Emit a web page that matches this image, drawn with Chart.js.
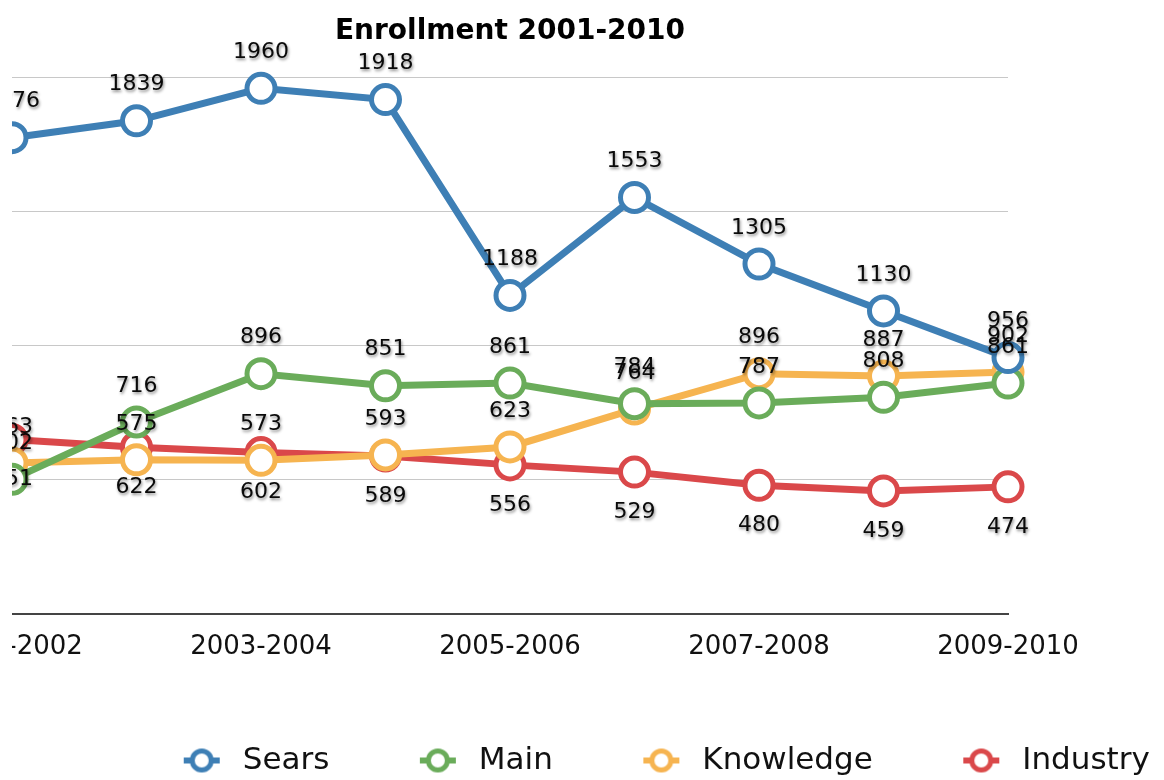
<!DOCTYPE html>
<html>
<head>
<meta charset="utf-8">
<script src="https://cdn.jsdelivr.net/npm/chart.js@4.4.0/dist/chart.umd.min.js"></script>
<style>
  html, body { margin:0; padding:0; overflow:hidden; background:#fff; width:1164px; height:780px; }
  #clip { position:absolute; left:12px; top:0; width:1152px; height:780px; overflow:hidden; }
  #wrap { position:absolute; left:-112px; top:0; }
</style>
</head>
<body>
<div id="clip"><div id="wrap"><canvas id="myChart" width="1414" height="780"></canvas></div></div>
<script>
const years = ['2001-2002','2002-2003','2003-2004','2004-2005','2005-2006','2006-2007','2007-2008','2008-2009','2009-2010'];
const sears = [1776, 1839, 1960, 1918, 1188, 1553, 1305, 1130, 956];
const main = [502, 716, 896, 851, 861, 784, 787, 808, 861];
const knowledge = [563, 575, 573, 593, 623, 764, 896, 887, 902];
const industry = [651, 622, 602, 589, 556, 529, 480, 459, 474];
const yMin = 0, yMax = 2000, yStep = 500;

const colors = {
  Sears: 'rgb(62,127,181)',
  Main: 'rgb(106,172,90)',
  Knowledge: 'rgb(246,180,80)',
  Industry: 'rgb(218,72,74)'
};

Chart.defaults.font.family = '"DejaVu Sans", sans-serif';
Chart.defaults.color = '#111';

// legend marker: short line with an open circle on it
function makeIcon(color){
  const c = document.createElement('canvas');
  c.width = 38; c.height = 28;
  const g = c.getContext('2d');
  g.strokeStyle = color;
  g.lineWidth = 6;
  g.beginPath(); g.moveTo(1, 14); g.lineTo(37, 14); g.stroke();
  g.beginPath(); g.arc(19, 14, 9.5, 0, Math.PI*2);
  g.fillStyle = '#fff'; g.fill();
  g.lineWidth = 5; g.stroke();
  return c;
}

function series(label, data){
  return {
    label: label,
    data: data,
    borderColor: colors[label],
    backgroundColor: '#fff',
    borderWidth: 7,
    pointRadius: 14,
    pointBorderWidth: 5,
    pointBackgroundColor: '#fff',
    pointBorderColor: colors[label],
    tension: 0,
    clip: false
  };
}

// numbers next to each point, Industry below, others above
const valueLabels = {
  id: 'valueLabels',
  afterDatasetsDraw(chart){
    const ctx = chart.ctx;
    ctx.save();
    ctx.font = '22px "DejaVu Sans"';
    ctx.textAlign = 'center';
    ctx.textBaseline = 'middle';
    ctx.fillStyle = '#0a0a0a';
    ctx.shadowColor = 'rgba(0,0,0,0.45)';
    ctx.shadowBlur = 3;
    ctx.shadowOffsetX = 1;
    ctx.shadowOffsetY = 2;
    chart.data.datasets.forEach((ds, i) => {
      const meta = chart.getDatasetMeta(i);
      meta.data.forEach((pt, j) => {
        const dy = ds.label === 'Industry' ? 40 : -36;
        ctx.fillText(ds.data[j], pt.x, pt.y + dy);
      });
    });
    ctx.restore();
  }
};

const ctx = document.getElementById('myChart').getContext('2d');
const myChart = new Chart(ctx, {
  type: 'line',
  data: {
    labels: years,
    datasets: [
      series('Sears', sears),
      series('Main', main),
      series('Knowledge', knowledge),
      series('Industry', industry)
    ]
  },
  options: {
    responsive: false,
    animation: false,
    devicePixelRatio: 1,
    layout: { padding: { left: 112, right: 0, top: 0, bottom: -6 } },
    scales: {
      x: {
        offset: false,
        grid: { display: false, drawTicks: false },
        border: { display: true, color: '#444', width: 2 },
        ticks: {
          autoSkip: false,
          maxRotation: 0,
          minRotation: 0,
          padding: 18,
          font: { size: 26 },
          color: '#111',
          callback: function(v, i){ return i % 2 === 0 ? years[i] : ''; }
        },
        afterFit: function(s){ s.height = 48; }
      },
      y: {
        position: 'right',
        min: yMin,
        max: yMax,
        grid: { color: '#c8c8c8', lineWidth: 1, drawTicks: false },
        border: { display: false },
        ticks: { display: false, stepSize: yStep },
        afterFit: function(s){ s.width = 306; }
      }
    },
    plugins: {
      title: {
        display: true,
        text: 'Enrollment 2001-2010',
        fullSize: false,
        color: '#000',
        font: { size: 28, weight: 'bold' },
        padding: { top: 15, bottom: 29 }
      },
      legend: {
        position: 'bottom',
        labels: {
          usePointStyle: true,
          pointStyleWidth: 51,
          padding: 83,
          font: { size: 31 },
          color: '#111',
          generateLabels: function(chart){
            const items = Chart.defaults.plugins.legend.labels.generateLabels(chart);
            items.forEach(it => { it.pointStyle = makeIcon(colors[it.text]); });
            return items;
          }
        }
      },
      tooltip: { enabled: false }
    }
  },
  plugins: [valueLabels]
});
</script>
</body>
</html>
